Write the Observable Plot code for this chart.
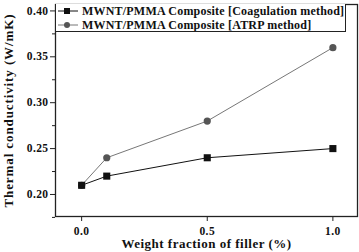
<!DOCTYPE html>
<html>
<head>
<meta charset="utf-8">
<script src="https://cdn.jsdelivr.net/npm/d3@7"></script>
<script src="https://cdn.jsdelivr.net/npm/@observablehq/plot@0.6"></script>
<style>
  html, body { margin: 0; padding: 0; background: #fff; }
  #wrap { position: relative; width: 359px; height: 252px; }
  #wrap svg g[aria-label="y-axis label"] text { font-size: 13px; letter-spacing: 0.9px; }
  #wrap svg g[aria-label="x-axis label"] text { font-size: 13px; letter-spacing: 0.5px; }
  #legend {
    position: absolute; left: 55px; top: 4px; width: 291px; height: 28px;
    border: 1px solid #222; border-top: none; background: #fff;
    font-family: "Liberation Serif", "Times New Roman", serif; font-weight: bold;
    font-size: 12px; letter-spacing: 0.2px; color: #111; box-sizing: border-box;
    white-space: nowrap; overflow: hidden;
  }
  #legend .row { display: flex; align-items: center; height: 14px; }
  #legend svg { display: block; margin-right: 2px; flex: none; }
</style>
</head>
<body>
<div id="wrap"></div>
<script>
// Filler loading (wt %) and measured thermal conductivity (W/mK)
const fraction = [0.0, 0.1, 0.5, 1.0];
const coagulation = [0.21, 0.22, 0.24, 0.25];
const atrp = [0.21, 0.24, 0.28, 0.36];
const seriesNames = [
  "MWNT/PMMA Composite [Coagulation method]",
  "MWNT/PMMA Composite [ATRP method]"
];
const yMajor = [0.20, 0.25, 0.30, 0.35, 0.40];
const yMinor = [0.175, 0.225, 0.275, 0.325, 0.375];
const xMajor = [0.0, 0.5, 1.0];

const rows = [
  ...fraction.map((f, i) => ({x: f, y: coagulation[i], s: seriesNames[0]})),
  ...fraction.map((f, i) => ({x: f, y: atrp[i], s: seriesNames[1]}))
];
const coag = rows.filter(d => d.s === seriesNames[0]);
const at = rows.filter(d => d.s === seriesNames[1]);

const serif = "'Liberation Serif', 'Times New Roman', serif";

const chart = Plot.plot({
  width: 359,
  height: 252,
  marginLeft: 55,
  marginRight: 2,
  marginTop: 4,
  marginBottom: 36,
  style: {fontFamily: serif, fontWeight: "bold", fontSize: "11.5px", letterSpacing: "0.4px", color: "#111", background: "#fff"},
  x: {domain: [-0.104, 1.098]},
  y: {domain: [0.176, 0.407]},
  marks: [
    Plot.axisY(yMinor, {tickSize: 3, tickFormat: () => "", label: null, stroke: "#222"}),
    Plot.axisY(yMajor, {
      tickSize: 5, tickPadding: 2, tickFormat: d3.format(".2f"), stroke: "#222",
      label: "Thermal conductivity (W/mK)", labelAnchor: "center", labelOffset: 52, labelArrow: "none"
    }),
    Plot.axisX(xMajor, {
      tickSize: 5, tickPadding: 5, tickFormat: d3.format(".1f"), stroke: "#222",
      label: "Weight fraction of filler (%)", labelAnchor: "center", labelOffset: 31, labelArrow: "none"
    }),
    Plot.frame({stroke: "#222", strokeWidth: 1.3}),
    Plot.line(at, {x: "x", y: "y", stroke: "#777", strokeWidth: 1}),
    Plot.line(coag, {x: "x", y: "y", stroke: "#111", strokeWidth: 1}),
    Plot.dot(at, {x: "x", y: "y", r: 3.6, fill: "#555", symbol: "circle"}),
    Plot.dot(coag, {x: "x", y: "y", r: 4, fill: "#111", symbol: "square"})
  ]
});

const wrap = document.getElementById("wrap");
wrap.appendChild(chart);

// Legend box inside the plot frame
const legend = document.createElement("div");
legend.id = "legend";
const swatches = [
  {stroke: "#111", fill: "#111", shape: "square"},
  {stroke: "#777", fill: "#555", shape: "circle"}
];
seriesNames.forEach((name, i) => {
  const row = document.createElement("div");
  row.className = "row";
  const sw = swatches[i];
  const marker = sw.shape === "square"
    ? `<rect x="8" y="4" width="6" height="6" fill="${sw.fill}"/>`
    : `<circle cx="11" cy="7" r="3" fill="${sw.fill}"/>`;
  row.innerHTML = `<svg width="24" height="14"><line x1="2" x2="22" y1="7" y2="7" stroke="${sw.stroke}" stroke-width="1"/>${marker}</svg><span>${name}</span>`;
  legend.appendChild(row);
});
wrap.appendChild(legend);
</script>
</body>
</html>
